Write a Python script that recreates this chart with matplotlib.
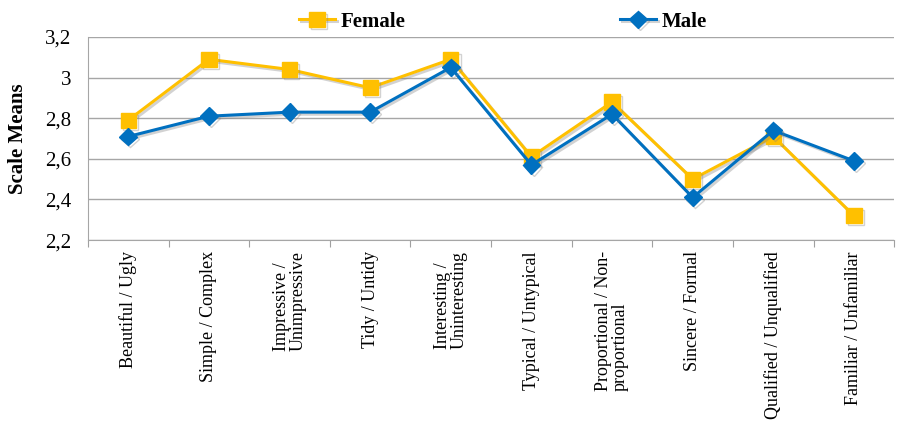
import matplotlib.pyplot as plt
import matplotlib.patheffects as pe
import numpy as np
from matplotlib.ticker import FixedLocator, FuncFormatter

# 데이터
categories = ['Beautiful / Ugly', 'Simple / Complex', 'Impressive /\nUnimpressive',
              'Tidy / Untidy', 'Interesting /\nUninteresting', 'Typical / Untypical',
              'Proportional / Non-\nproportional', 'Sincere / Formal',
              'Qualified / Unqualified', 'Familiar / Unfamiliar']
female = [2.79, 3.09, 3.04, 2.95, 3.09, 2.61, 2.88, 2.50, 2.71, 2.32]
male = [2.71, 2.81, 2.83, 2.83, 3.05, 2.57, 2.82, 2.41, 2.74, 2.59]
y_ticks = [2.2, 2.4, 2.6, 2.8, 3.0, 3.2]

plt.rcParams['font.family'] = ['Liberation Serif', 'DejaVu Serif']

fig = plt.figure(figsize=(8.97, 4.25), dpi=100)
ax = fig.add_axes([0.098, 0.435, 0.899, 0.478])

x = np.arange(len(categories))
shadow = [pe.SimpleLineShadow(offset=(1.5, -1.5), shadow_color='gray', alpha=0.35), pe.Normal()]

ax.plot(x, female, '-s', color='#FFC000', linewidth=2.2, markersize=11,
        label='Female', path_effects=shadow, zorder=3)
ax.plot(x, male, '-D', color='#0070C0', linewidth=2.2, markersize=9,
        label='Male', path_effects=shadow, zorder=4)

ax.set_xlim(-0.5, len(categories) - 0.5)
ax.set_ylim(2.2, 3.2)
ax.set_yticks(y_ticks)
ax.yaxis.set_major_formatter(FuncFormatter(lambda v, p: f'{v:g}'.replace('.', ',')))
ax.tick_params(axis='y', length=0, labelsize=15, pad=12)

# 카테고리 경계에 눈금
ax.xaxis.set_major_locator(FixedLocator(np.arange(-0.5, len(categories), 1.0)))
ax.xaxis.set_major_formatter(plt.NullFormatter())
ax.xaxis.set_minor_locator(FixedLocator(x))
ax.set_xticks(x, categories, minor=True)
ax.tick_params(axis='x', which='major', length=5, color='#A0A0A0', direction='out')
ax.tick_params(axis='x', which='minor', length=0, labelsize=13, pad=8)
for lbl in ax.get_xticklabels(minor=True):
    lbl.set_rotation(90)
    lbl.set_va('top')
    lbl.set_ha('center')
    lbl.set_multialignment('left')
    lbl.set_linespacing(0.95)

ax.grid(axis='y', color='#A6A6A6', linewidth=1.0)
ax.set_axisbelow(True)
for side in ['top', 'right']:
    ax.spines[side].set_visible(False)
ax.spines['left'].set_color('#A6A6A6')
ax.spines['bottom'].set_color('#A6A6A6')

ax.set_ylabel('Scale Means', fontsize=15, fontweight='bold', labelpad=12)

ax.legend(loc='lower center', bbox_to_anchor=(0.515, 0.985), ncol=2, frameon=False,
          columnspacing=10.3, handlelength=1.7, handletextpad=0.3,
          prop={'weight': 'bold', 'size': 15}, borderaxespad=0)

fig.savefig('out.png', dpi=100)
